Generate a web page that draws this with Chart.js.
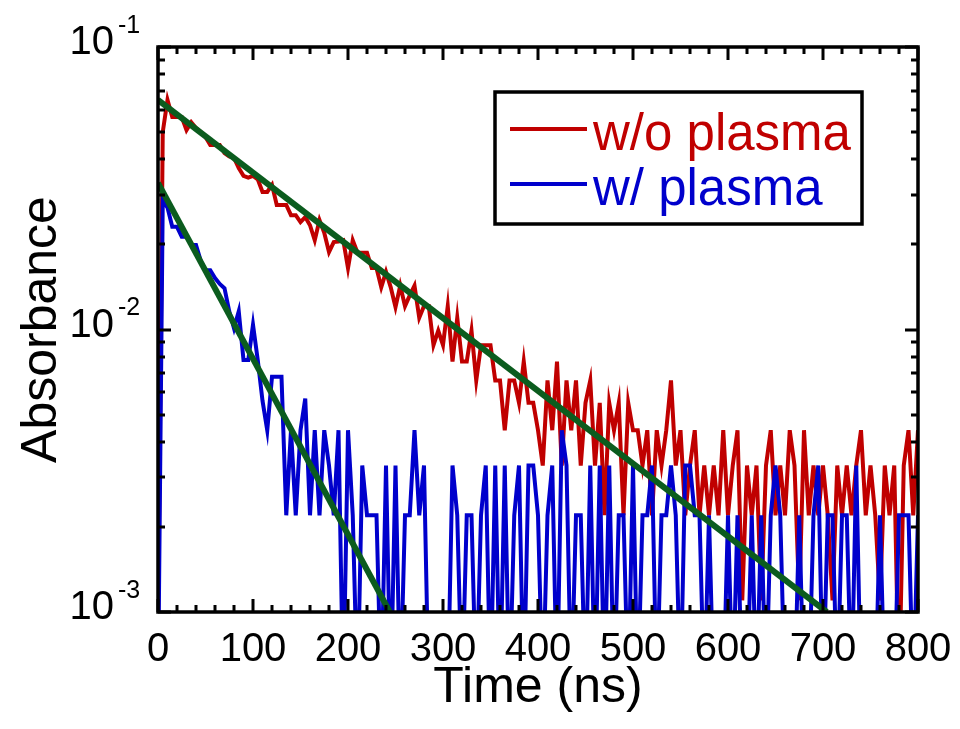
<!DOCTYPE html>
<html>
<head>
<meta charset="utf-8">
<script src="https://cdn.jsdelivr.net/npm/chart.js@4.4.1/dist/chart.umd.min.js"></script>
<style>
  body { margin: 0; background: #fff; }
  canvas { display: block; }
</style>
</head>
<body>
<canvas id="canvas" width="960" height="729"></canvas>
<script>
// time axis (ns)
var timeNs = [
  0, 5, 10, 15, 20, 25, 30, 35, 40, 45,
  50, 55, 60, 65, 70, 75, 80, 85, 90, 95,
  100, 105, 110, 115, 120, 125, 130, 135, 140, 145,
  150, 155, 160, 165, 170, 175, 180, 185, 190, 195,
  200, 205, 210, 215, 220, 225, 230, 235, 240, 245,
  250, 255, 260, 265, 270, 275, 280, 285, 290, 295,
  300, 305, 310, 315, 320, 325, 330, 335, 340, 345,
  350, 355, 360, 365, 370, 375, 380, 385, 390, 395,
  400, 405, 410, 415, 420, 425, 430, 435, 440, 445,
  450, 455, 460, 465, 470, 475, 480, 485, 490, 495,
  500, 505, 510, 515, 520, 525, 530, 535, 540, 545,
  550, 555, 560, 565, 570, 575, 580, 585, 590, 595,
  600, 605, 610, 615, 620, 625, 630, 635, 640, 645,
  650, 655, 660, 665, 670, 675, 680, 685, 690, 695,
  700, 705, 710, 715, 720, 725, 730, 735, 740, 745,
  750, 755, 760, 765, 770, 775, 780, 785, 790, 795,
  800
];

// w/o plasma
var redAbs = [
  0.0008, 0.050, 0.065, 0.0565, 0.0565, 0.0565, 0.0508, 0.0542, 0.0517, 0.0500,
  0.0480, 0.0450, 0.0450, 0.0450, 0.0421, 0.0410, 0.0405, 0.0373, 0.0350, 0.0345,
  0.0350, 0.0340, 0.0307, 0.0307, 0.0325, 0.0276, 0.0276, 0.0276, 0.0254, 0.0254,
  0.0240, 0.0250, 0.0234, 0.0207, 0.0244, 0.0220, 0.0188, 0.0204, 0.0205, 0.0207,
  0.0165, 0.0207, 0.0187, 0.0187, 0.0187, 0.0165, 0.0165, 0.0141, 0.0160, 0.0141,
  0.0120, 0.0143, 0.0121, 0.0132, 0.0143, 0.0110, 0.0121, 0.0121, 0.0088, 0.0099,
  0.0088, 0.0121, 0.0077, 0.0110, 0.0077, 0.0077, 0.0099, 0.0066, 0.0088, 0.0088,
  0.0088, 0.0066, 0.0066, 0.0044, 0.0066, 0.0066, 0.0055, 0.0077, 0.0055, 0.0055,
  0.0044, 0.0033, 0.0066, 0.0044, 0.0077, 0.0033, 0.0066, 0.0044, 0.0066, 0.0033,
  0.0055, 0.0066, 0.0033, 0.0055, 0.0022, 0.0055, 0.0044, 0.0055, 0.0022, 0.0055,
  0.0044, 0.0044, 0.0033, 0.0044, 0.0022, 0.0044, 0.0033, 0.0044, 0.0066, 0.0033,
  0.0044, 0.0022, 0.0033, 0.0044, 0.0022, 0.0033, 0.0022, 0.0033, 0.0022, 0.0044,
  0.0022, 0.0033, 0.0044, 0.0011, 0.0033, 0.0022, 0.0033, 0.0011, 0.0033, 0.0044,
  0.0022, 0.0033, 0.0022, 0.0044, 0.0033, 0.0011, 0.0044, 0.0022, 0.0033, 0.0022,
  0.0033, 0.0022, 0.0011, 0.0033, 0.0022, 0.0033, 0.0022, 0.0033, 0.0044, 0.0022,
  0.0033, 0.0022, 0.0011, 0.0033, 0.0022, 0.0033, 0.0005, 0.0033, 0.0044, 0.0022,
  0.0044
];

// w/ plasma
var blueAbs = [
  0.0005, 0.0287, 0.0270, 0.0231, 0.0231, 0.0213, 0.0213, 0.0199, 0.0199, 0.0175,
  0.0162, 0.0162, 0.0152, 0.0145, 0.0140, 0.0116, 0.0101, 0.0116, 0.0078, 0.0078,
  0.0104, 0.0078, 0.0056, 0.0044, 0.0068, 0.0068, 0.0068, 0.0022, 0.0044, 0.0022,
  0.0044, 0.0057, 0.0022, 0.0044, 0.0022, 0.0044, 0.0033, 0.0022, 0.0044, 0.0005,
  0.0044, 0.0022, 0.0005, 0.0033, 0.0022, 0.0022, 0.0022, 0.0005, 0.0033, 0.0005,
  0.0033, 0.0005, 0.0022, 0.0022, 0.0044, 0.0022, 0.0033, 0.0005, 0.0005, 0.0005,
  0.0005, 0.0005, 0.0033, 0.0022, 0.0005, 0.0022, 0.0022, 0.0005, 0.0022, 0.0033,
  0.0005, 0.0033, 0.0005, 0.0033, 0.0005, 0.0022, 0.0033, 0.0005, 0.0033, 0.0033,
  0.0022, 0.0005, 0.0022, 0.0033, 0.0005, 0.0044, 0.0033, 0.0005, 0.0022, 0.0022,
  0.0005, 0.0033, 0.0005, 0.0033, 0.0005, 0.0033, 0.0005, 0.0022, 0.0022, 0.0005,
  0.0033, 0.0005, 0.0022, 0.0022, 0.0033, 0.0005, 0.0022, 0.0022, 0.0033, 0.0022,
  0.0005, 0.0033, 0.0033, 0.0022, 0.0022, 0.0005, 0.0022, 0.0005, 0.0005, 0.0005,
  0.0022, 0.0005, 0.0022, 0.0005, 0.0005, 0.0022, 0.0005, 0.0022, 0.0005, 0.0022,
  0.0033, 0.0022, 0.0005, 0.0005, 0.0005, 0.0022, 0.0005, 0.0005, 0.0022, 0.0033,
  0.0005, 0.0022, 0.0022, 0.0005, 0.0022, 0.0022, 0.0005, 0.0033, 0.0005, 0.0005,
  0.0005, 0.0005, 0.0022, 0.0005, 0.0005, 0.0005, 0.0022, 0.0022, 0.0022, 0.0005,
  0.0022
];

// exponential fits (straight on the log axis), end points
var fitRedTime = [0, 704];
var fitRedAbs = [0.065, 0.001];
var fitBlueTime = [0, 244];
var fitBlueAbs = [0.033, 0.001];

var yDecades = [0.001, 0.01, 0.1];
var yExponents = ['-3', '-2', '-1'];
var legendLabels = ['w/o plasma', 'w/ plasma'];

var RED = '#c00000', BLUE = '#0000cc', GREEN = '#0b5c1e';
var textFont = "'Liberation Sans', Arial, sans-serif";

function pts(xs, ys) {
  return xs.map(function(t, i) { return {x: t, y: ys[i]}; });
}

const framePlugin = {
  id: 'framePlugin',
  afterDatasetsDraw(chart) {
    const ctx = chart.ctx;
    const a = chart.chartArea;
    const xs = chart.scales.x, ys = chart.scales.y;
    ctx.save();
    ctx.strokeStyle = '#000';
    ctx.lineWidth = 3;
    ctx.beginPath();
    for (let v = 0; v <= 800; v += 20) {
      const px = Math.round(xs.getPixelForValue(v));
      const len = v % 100 === 0 ? 13 : 7;
      ctx.moveTo(px, a.bottom); ctx.lineTo(px, a.bottom - len);
      ctx.moveTo(px, a.top); ctx.lineTo(px, a.top + len);
    }
    yDecades.forEach(function(d) {
      for (let k = 1; k < 10; k++) {
        const v = d * k;
        if (v > 0.1 * 1.0001) break;
        const py = Math.round(ys.getPixelForValue(v));
        const len = k === 1 ? 13 : 7;
        ctx.moveTo(a.left, py); ctx.lineTo(a.left + len, py);
        ctx.moveTo(a.right, py); ctx.lineTo(a.right - len, py);
      }
    });
    ctx.stroke();
    ctx.lineWidth = 3.5;
    ctx.strokeRect(a.left, a.top, a.right - a.left, a.bottom - a.top);

    // exponents of the y tick labels
    ctx.fillStyle = '#000';
    ctx.font = '25px ' + textFont;
    ctx.textAlign = 'left';
    ctx.textBaseline = 'middle';
    yDecades.forEach(function(d, i) {
      const py = ys.getPixelForValue(d);
      ctx.fillText(yExponents[i], a.left - 40, py - 21);
    });

    // legend box
    ctx.fillStyle = '#fff';
    ctx.fillRect(495, 92, 367, 132);
    ctx.lineWidth = 3.5;
    ctx.strokeRect(495, 92, 367, 132);
    const cols = [RED, BLUE];
    const rows = [129, 184];
    ctx.font = '51px ' + textFont;
    ctx.textBaseline = 'alphabetic';
    legendLabels.forEach(function(lab, i) {
      ctx.strokeStyle = cols[i];
      ctx.lineWidth = 4;
      ctx.beginPath();
      ctx.moveTo(510, rows[i]); ctx.lineTo(587, rows[i]);
      ctx.stroke();
      ctx.fillStyle = cols[i];
      ctx.fillText(lab, 593, rows[i] + 21);
    });
    ctx.restore();
  }
};

const ctx = document.getElementById('canvas').getContext('2d');

const myChart = new Chart(ctx, {
  type: 'line',
  data: {
    datasets: [{
      label: 'fit w/o plasma',
      data: pts(fitRedTime, fitRedAbs),
      borderColor: GREEN,
      borderWidth: 6,
      order: 0
    }, {
      label: 'fit w/ plasma',
      data: pts(fitBlueTime, fitBlueAbs),
      borderColor: GREEN,
      borderWidth: 6,
      order: 0
    }, {
      label: legendLabels[1],
      data: pts(timeNs, blueAbs),
      borderColor: BLUE,
      borderWidth: 4,
      order: 1
    }, {
      label: legendLabels[0],
      data: pts(timeNs, redAbs),
      borderColor: RED,
      borderWidth: 4,
      order: 2
    }]
  },
  options: {
    responsive: false,
    devicePixelRatio: 1,
    animation: false,
    elements: {
      point: { radius: 0 },
      line: { tension: 0, borderJoinStyle: 'miter', fill: false }
    },
    layout: { padding: { top: 47, right: 42, left: 0, bottom: 0 } },
    plugins: {
      legend: { display: false },
      tooltip: { enabled: false }
    },
    scales: {
      x: {
        type: 'linear',
        min: 0,
        max: 800,
        grid: { display: false, drawTicks: false },
        border: { display: false },
        ticks: {
          stepSize: 100,
          maxRotation: 0,
          autoSkip: false,
          padding: 14,
          color: '#000',
          font: { family: textFont, size: 40 }
        },
        title: {
          display: true,
          text: 'Time (ns)',
          color: '#000',
          font: { family: textFont, size: 50 },
          padding: { top: 0, bottom: 11 }
        },
        afterFit: function(s) {
          s.height = 117;
          s.paddingLeft = 0;
          s.paddingRight = 0;
        }
      },
      y: {
        type: 'logarithmic',
        min: 0.001,
        max: 0.1,
        grid: { display: false, drawTicks: false },
        border: { display: false },
        ticks: {
          autoSkip: false,
          padding: 44,
          labelOffset: -4,
          color: '#000',
          font: { family: textFont, size: 40 },
          callback: function(v) {
            const e = Math.log10(v);
            return Math.abs(e - Math.round(e)) < 1e-6 ? '10' : '';
          }
        },
        title: {
          display: true,
          text: 'Absorbance',
          color: '#000',
          font: { family: textFont, size: 50 },
          padding: { top: 12, bottom: 0 }
        },
        afterFit: function(s) {
          s.width = 158;
          s.paddingTop = 0;
          s.paddingBottom = 0;
        }
      }
    }
  },
  plugins: [framePlugin]
});
</script>
</body>
</html>
